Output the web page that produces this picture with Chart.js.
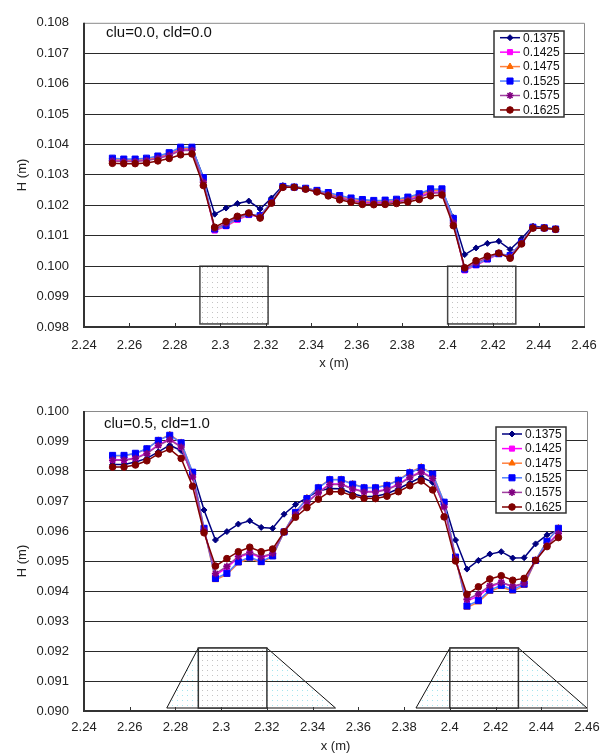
<!DOCTYPE html>
<html>
<head>
<meta charset="utf-8">
<script src="https://cdn.jsdelivr.net/npm/chart.js@4.4.0/dist/chart.umd.min.js"></script>
<style>
  body { margin: 0; background: #fff; }
  .box { position: absolute; left: 0; width: 612px; }
  #b1 { top: 0; height: 375px; }
  #b2 { top: 378px; height: 378px; }
</style>
</head>
<body>
<div class="box" id="b1"><canvas id="c1" width="612" height="375"></canvas></div>
<div class="box" id="b2"><canvas id="c2" width="612" height="378"></canvas></div>
<script>
// measuring positions (m)
const xPos = [2.2525, 2.2575, 2.2625, 2.2675, 2.2725, 2.2775, 2.2825, 2.2875, 2.2925, 2.2975,
  2.3025, 2.3075, 2.3125, 2.3175, 2.3225, 2.3275, 2.3325, 2.3375, 2.3425, 2.3475,
  2.3525, 2.3575, 2.3625, 2.3675, 2.3725, 2.3775, 2.3825, 2.3875, 2.3925, 2.3975,
  2.4025, 2.4075, 2.4125, 2.4175, 2.4225, 2.4275, 2.4325, 2.4375, 2.4425, 2.4475];

const seriesNames = ['0.1375', '0.1425', '0.1475', '0.1525', '0.1575', '0.1625'];

// top chart: clu=0.0, cld=0.0
const h1_1375 = [0.10353,0.10350,0.10350,0.10353,0.10360,0.10371,0.10389,0.10389,0.10293,0.10171,0.10191,0.10206,0.10214,0.10188,0.10224,0.10265,0.10261,0.10256,0.10248,0.10240,0.10230,0.10222,0.10217,0.10214,0.10215,0.10218,0.10225,0.10236,0.10250,0.10250,0.10160,0.10038,0.10060,0.10075,0.10082,0.10055,0.10090,0.10132,0.10127,0.10122];
const h1_1425 = [0.10350,0.10347,0.10347,0.10350,0.10357,0.10367,0.10384,0.10384,0.10280,0.10117,0.10131,0.10152,0.10168,0.10163,0.10210,0.10260,0.10259,0.10254,0.10246,0.10236,0.10225,0.10217,0.10211,0.10209,0.10210,0.10213,0.10219,0.10229,0.10243,0.10244,0.10148,0.09986,0.10003,0.10022,0.10040,0.10034,0.10077,0.10127,0.10125,0.10121];
const h1_1475 = [0.10352,0.10349,0.10349,0.10352,0.10359,0.10370,0.10387,0.10387,0.10285,0.10120,0.10133,0.10155,0.10170,0.10165,0.10211,0.10261,0.10259,0.10255,0.10248,0.10239,0.10229,0.10221,0.10215,0.10213,0.10214,0.10217,0.10223,0.10234,0.10249,0.10249,0.10152,0.09988,0.10004,0.10023,0.10041,0.10035,0.10078,0.10128,0.10125,0.10121];
const h1_1525 = [0.10355,0.10352,0.10352,0.10355,0.10362,0.10373,0.10391,0.10391,0.10291,0.10122,0.10134,0.10157,0.10171,0.10166,0.10212,0.10262,0.10260,0.10256,0.10249,0.10242,0.10232,0.10224,0.10219,0.10216,0.10217,0.10220,0.10227,0.10238,0.10254,0.10254,0.10157,0.09990,0.10005,0.10024,0.10041,0.10035,0.10078,0.10128,0.10126,0.10122];
const h1_1575 = [0.10346,0.10344,0.10344,0.10347,0.10354,0.10364,0.10380,0.10381,0.10276,0.10124,0.10140,0.10160,0.10173,0.10162,0.10209,0.10260,0.10259,0.10254,0.10246,0.10235,0.10223,0.10215,0.10208,0.10207,0.10208,0.10211,0.10217,0.10226,0.10240,0.10241,0.10142,0.09992,0.10011,0.10028,0.10042,0.10030,0.10075,0.10126,0.10125,0.10121];
const h1_1625 = [0.10338,0.10337,0.10337,0.10339,0.10346,0.10354,0.10366,0.10369,0.10265,0.10128,0.10147,0.10164,0.10175,0.10158,0.10207,0.10259,0.10259,0.10253,0.10244,0.10231,0.10218,0.10210,0.10203,0.10202,0.10203,0.10206,0.10211,0.10219,0.10231,0.10234,0.10133,0.09995,0.10018,0.10033,0.10043,0.10026,0.10073,0.10125,0.10125,0.10121];

// bottom chart: clu=0.5, cld=1.0
const h2_1375 = [0.09822,0.09822,0.09830,0.09842,0.09864,0.09886,0.09868,0.09796,0.09670,0.09570,0.09598,0.09623,0.09634,0.09612,0.09609,0.09656,0.09688,0.09711,0.09733,0.09742,0.09741,0.09724,0.09714,0.09716,0.09724,0.09741,0.09760,0.09780,0.09762,0.09696,0.09570,0.09473,0.09502,0.09523,0.09531,0.09510,0.09511,0.09557,0.09587,0.09603];
const h2_1425 = [0.09838,0.09837,0.09843,0.09860,0.09887,0.09906,0.09881,0.09781,0.09605,0.09453,0.09478,0.09512,0.09526,0.09511,0.09523,0.09597,0.09656,0.09696,0.09729,0.09757,0.09757,0.09741,0.09732,0.09732,0.09739,0.09756,0.09780,0.09798,0.09777,0.09682,0.09510,0.09367,0.09383,0.09413,0.09428,0.09414,0.09424,0.09502,0.09553,0.09594];
const h2_1475 = [0.09851,0.09851,0.09858,0.09874,0.09902,0.09921,0.09895,0.09794,0.09607,0.09437,0.09455,0.09493,0.09509,0.09494,0.09514,0.09597,0.09663,0.09709,0.09745,0.09772,0.09772,0.09757,0.09745,0.09745,0.09753,0.09770,0.09796,0.09813,0.09791,0.09695,0.09511,0.09345,0.09363,0.09398,0.09414,0.09399,0.09418,0.09502,0.09567,0.09610];
const h2_1525 = [0.09852,0.09852,0.09859,0.09874,0.09902,0.09919,0.09894,0.09796,0.09609,0.09442,0.09459,0.09497,0.09513,0.09498,0.09517,0.09597,0.09662,0.09708,0.09744,0.09771,0.09771,0.09756,0.09744,0.09744,0.09752,0.09769,0.09794,0.09811,0.09790,0.09696,0.09513,0.09350,0.09368,0.09403,0.09419,0.09404,0.09423,0.09502,0.09566,0.09609];
const h2_1575 = [0.09836,0.09836,0.09842,0.09858,0.09885,0.09904,0.09880,0.09780,0.09603,0.09458,0.09482,0.09515,0.09529,0.09514,0.09525,0.09597,0.09655,0.09694,0.09727,0.09755,0.09755,0.09740,0.09730,0.09730,0.09737,0.09754,0.09778,0.09796,0.09775,0.09680,0.09508,0.09372,0.09390,0.09418,0.09429,0.09416,0.09426,0.09502,0.09551,0.09592];
const h2_1625 = [0.09813,0.09813,0.09820,0.09834,0.09857,0.09873,0.09842,0.09749,0.09594,0.09483,0.09508,0.09531,0.09546,0.09531,0.09540,0.09597,0.09646,0.09678,0.09706,0.09731,0.09731,0.09717,0.09709,0.09708,0.09716,0.09731,0.09751,0.09767,0.09737,0.09647,0.09500,0.09389,0.09414,0.09440,0.09451,0.09436,0.09442,0.09502,0.09548,0.09578];

// axis ticks
const xTicks = [2.24, 2.26, 2.28, 2.30, 2.32, 2.34, 2.36, 2.38, 2.40, 2.42, 2.44, 2.46];
const xTickLabels = ['2.24', '2.26', '2.28', '2.3', '2.32', '2.34', '2.36', '2.38', '2.4', '2.42', '2.44', '2.46'];
const yTicks1 = [0.098, 0.099, 0.100, 0.101, 0.102, 0.103, 0.104, 0.105, 0.106, 0.107, 0.108];
const yTicks2 = [0.090, 0.091, 0.092, 0.093, 0.094, 0.095, 0.096, 0.097, 0.098, 0.099, 0.100];

// structures (x in m, y = bottom/top in m)
const block1X = [[2.291, 2.321], [2.400, 2.430]];
const block1Y = [0.0981, 0.1000];
const trap2X = [[2.2762, 2.29, 2.32, 2.35], [2.3852, 2.40, 2.43, 2.46]];
const trap2Y = [0.0901, 0.0921];

const lineColors = ['#000080', '#ff00ff', '#ff8040', '#5080ff', '#a040a0', '#800000'];
const markColors = ['#000080', '#ff00ff', '#ff6a00', '#0000ff', '#800080', '#800000'];
const markStyles = ['rectRot', 'rect', 'triangle', 'rect', 'star', 'circle'];
const markSizes = [3, 3.6, 3.6, 4.3, 3.6, 3.3];

const FONT = '"Liberation Sans", Arial, sans-serif';

function dots(color) {
  const c = document.createElement('canvas');
  c.width = 5; c.height = 5;
  const g = c.getContext('2d');
  g.fillStyle = '#fff';
  g.fillRect(0, 0, 5, 5);
  g.fillStyle = color;
  g.fillRect(2, 2, 1, 1);
  return c;
}

const framePlugin = {
  id: 'frame',
  beforeDraw(chart, args, o) {
    const ctx = chart.ctx;
    const x = chart.scales.x, y = chart.scales.y;
    const gray = ctx.createPattern(dots('#c4c4c4'), 'repeat');
    const cyan = ctx.createPattern(dots('#a6e6ee'), 'repeat');
    ctx.save();
    if (o.blocks) {
      o.blocks.forEach(b => {
        const l = x.getPixelForValue(b[0]), r = x.getPixelForValue(b[1]);
        const t = y.getPixelForValue(o.blockY[1]), btm = y.getPixelForValue(o.blockY[0]);
        ctx.fillStyle = gray;
        ctx.fillRect(l, t, r - l, btm - t);
        ctx.strokeStyle = '#444';
        ctx.lineWidth = 1.5;
        ctx.strokeRect(l, t, r - l, btm - t);
      });
    }
    if (o.traps) {
      o.traps.forEach(tp => {
        const p = tp.map(v => x.getPixelForValue(v));
        const t = y.getPixelForValue(o.trapY[1]), btm = y.getPixelForValue(o.trapY[0]);
        ctx.fillStyle = cyan;
        ctx.beginPath();
        ctx.moveTo(p[0], btm); ctx.lineTo(p[1], t); ctx.lineTo(p[2], t); ctx.lineTo(p[3], btm);
        ctx.closePath();
        ctx.fill();
        ctx.strokeStyle = '#111';
        ctx.lineWidth = 1;
        ctx.stroke();
        ctx.fillStyle = gray;
        ctx.fillRect(p[1], t, p[2] - p[1], btm - t);
        ctx.strokeStyle = '#333';
        ctx.lineWidth = 1.5;
        ctx.strokeRect(p[1], t, p[2] - p[1], btm - t);
      });
    }
    ctx.restore();
  },
  beforeDatasetsDraw(chart) {
    const ctx = chart.ctx;
    const {left, right, top, bottom} = chart.chartArea;
    const x = chart.scales.x;
    ctx.save();
    ctx.strokeStyle = '#8a8a8a';
    ctx.lineWidth = 1;
    ctx.beginPath();
    ctx.moveTo(left, top + 0.5);
    ctx.lineTo(right + 0.5, top + 0.5);
    ctx.lineTo(right + 0.5, bottom);
    ctx.stroke();
    ctx.strokeStyle = '#333';
    ctx.lineWidth = 2;
    ctx.beginPath();
    ctx.moveTo(left, top);
    ctx.lineTo(left, bottom);
    ctx.lineTo(right + 1, bottom);
    ctx.stroke();
    ctx.lineWidth = 1;
    xTicks.slice(1, -1).forEach(v => {
      const px = Math.round(x.getPixelForValue(v)) + 0.5;
      ctx.beginPath();
      ctx.moveTo(px, bottom);
      ctx.lineTo(px, bottom - 4);
      ctx.stroke();
    });
    ctx.restore();
  },
  afterDatasetsDraw(chart, args, o) {
    const ctx = chart.ctx;
    const L = o.legend;
    ctx.save();
    ctx.fillStyle = '#111';
    ctx.font = '15px ' + FONT;
    ctx.textBaseline = 'middle';
    ctx.fillText(o.label, o.labelAt[0], o.labelAt[1]);

    ctx.fillStyle = '#fff';
    ctx.fillRect(L.x, L.y, L.w, L.h);
    ctx.strokeStyle = '#333';
    ctx.lineWidth = 1.5;
    ctx.strokeRect(L.x, L.y, L.w, L.h);
    ctx.font = '12px ' + FONT;
    chart.data.datasets.forEach((ds, i) => {
      const cy = L.y + L.first + i * L.row;
      ctx.strokeStyle = ds.borderColor;
      ctx.lineWidth = 1.5;
      ctx.beginPath();
      ctx.moveTo(L.x + 6, cy);
      ctx.lineTo(L.x + 26, cy);
      ctx.stroke();
      ctx.fillStyle = ds.pointBackgroundColor;
      ctx.strokeStyle = ds.pointBorderColor;
      ctx.lineWidth = ds.pointBorderWidth;
      if (Chart.helpers && Chart.helpers.drawPoint) {
        Chart.helpers.drawPoint(ctx, {pointStyle: ds.pointStyle, radius: ds.pointRadius, borderWidth: ds.pointBorderWidth, rotation: 0}, L.x + 16, cy);
      }
      ctx.fillStyle = '#111';
      ctx.fillText(ds.label, L.x + 29, cy + 0.5);
    });
    ctx.restore();
  }
};

function makeChart(id, series, yTicks, cfg) {
  const datasets = seriesNames.map((name, i) => ({
    label: name,
    data: xPos.map((xv, j) => ({x: xv, y: series[i][j]})),
    borderColor: lineColors[i],
    borderWidth: 1.5,
    pointStyle: markStyles[i],
    pointRadius: markSizes[i],
    pointBackgroundColor: markColors[i],
    pointBorderColor: markColors[i],
    pointBorderWidth: markStyles[i] === 'star' ? 1.6 : 1,
    tension: 0,
    fill: false,
    order: 5 - i
  }));
  return new Chart(document.getElementById(id), {
    type: 'line',
    data: {datasets},
    plugins: [framePlugin],
    options: {
      responsive: false,
      animation: false,
      events: [],
      layout: {padding: {left: 0, right: cfg.padRight, top: cfg.padTop, bottom: 0}},
      scales: {
        x: {
          type: 'linear',
          min: 2.24, max: 2.46,
          afterBuildTicks: s => { s.ticks = xTicks.map(v => ({value: v})); },
          afterFit: s => { s.height = cfg.xHeight; },
          grid: {display: false, drawTicks: false},
          border: {display: false},
          ticks: {
            padding: cfg.xPad,
            maxRotation: 0,
            autoSkip: false,
            color: '#222',
            font: {family: FONT, size: 13},
            callback: (v, i) => xTickLabels[i]
          },
          title: {display: true, text: 'x (m)', color: '#222', font: {family: FONT, size: 13}, padding: {top: 0, bottom: cfg.xTitlePad}}
        },
        y: {
          min: yTicks[0], max: yTicks[yTicks.length - 1],
          afterBuildTicks: s => { s.ticks = yTicks.map(v => ({value: v})); },
          afterFit: s => { s.width = 84; },
          grid: {
            drawTicks: false,
            lineWidth: 1,
            color: c => (c.index === 0 || c.index === yTicks.length - 1) ? 'rgba(0,0,0,0)' : '#2a2a2a'
          },
          border: {display: false},
          ticks: {
            padding: 15,
            color: '#222',
            font: {family: FONT, size: 13},
            callback: v => v.toFixed(3)
          },
          title: {display: true, text: 'H (m)', color: '#222', font: {family: FONT, size: 13}, padding: {top: 15, bottom: 0}}
        }
      },
      plugins: {
        legend: {display: false},
        tooltip: {enabled: false},
        frame: cfg.frame
      }
    }
  });
}

makeChart('c1', [h1_1375, h1_1425, h1_1475, h1_1525, h1_1575, h1_1625], yTicks1, {
  padRight: 28, padTop: 16, xHeight: 48, xPad: 11, xTitlePad: 4,
  frame: {
    blocks: block1X, blockY: block1Y,
    label: 'clu=0.0, cld=0.0', labelAt: [106, 33],
    legend: {x: 494, y: 31, w: 70, h: 86, first: 6.7, row: 14.45}
  }
});

makeChart('c2', [h2_1375, h2_1425, h2_1475, h2_1525, h2_1575, h2_1625], yTicks2, {
  padRight: 25, padTop: 33, xHeight: 45, xPad: 9, xTitlePad: 2,
  frame: {
    traps: trap2X, trapY: trap2Y,
    label: 'clu=0.5, cld=1.0', labelAt: [104, 46],
    legend: {x: 496, y: 49, w: 70, h: 86, first: 7, row: 14.6}
  }
});
</script>
</body>
</html>
